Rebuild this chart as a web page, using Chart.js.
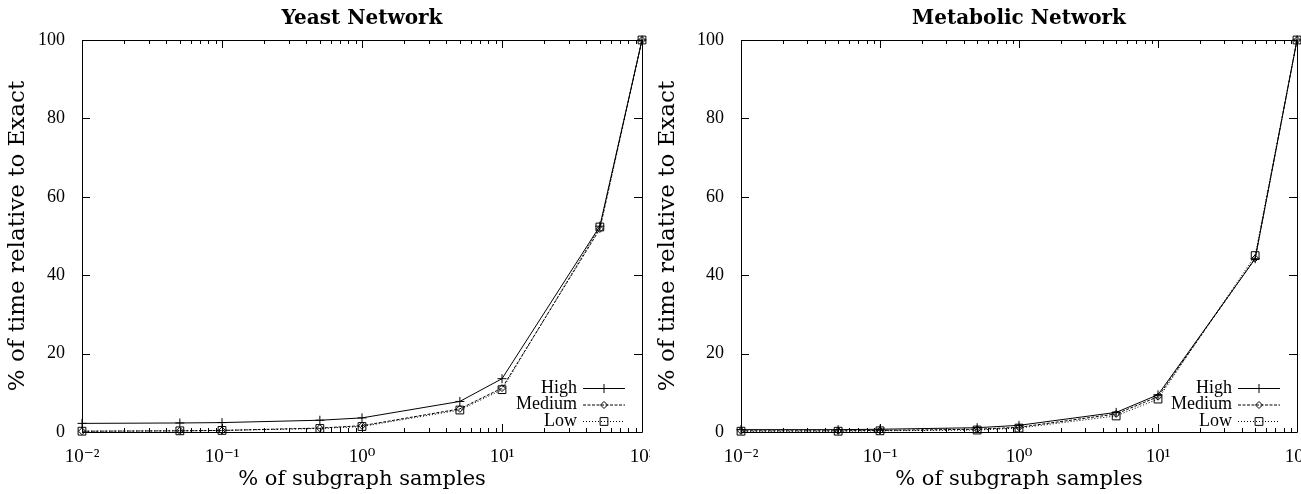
<!DOCTYPE html>
<html>
<head>
<meta charset="utf-8">
<script src="https://cdn.jsdelivr.net/npm/chart.js@4"></script>
<style>
  body { margin: 0; background: #fff; width: 1301px; height: 494px; overflow: hidden; position: relative; }
  #left { position: absolute; left: 0; top: 0; width: 650px; height: 494px; }
  #right { position: absolute; left: 650px; top: 0; width: 651px; height: 494px; overflow: hidden; }
  #right .box { width: 700px; height: 494px; }
</style>
</head>
<body>
<div id="left"><canvas id="yeast"></canvas></div>
<div id="right"><div class="box"><canvas id="metabolic"></canvas></div></div>
<script>
// sample sizes (% of subgraph samples), shared by both plots
const samplePct = [0.01, 0.05, 0.1, 0.5, 1, 5, 10, 50, 100];

// Yeast network, % of time relative to Exact
const yeastHigh   = [2.2, 2.3, 2.4, 3.0, 3.6, 7.8, 13.6, 52.5, 100];
const yeastMedium = [0.2, 0.3, 0.4, 1.0, 1.6, 5.9, 11.2, 51.8, 100];
const yeastLow    = [0.2, 0.3, 0.4, 0.9, 1.4, 5.6, 10.8, 52.3, 100];

// Metabolic network
const metaHigh   = [0.6, 0.6, 0.7, 1.1, 1.7, 5.0, 9.5, 44.2, 100];
const metaMedium = [0.3, 0.3, 0.4, 0.7, 1.2, 4.6, 9.0, 44.3, 100];
const metaLow    = [0.2, 0.2, 0.3, 0.5, 1.0, 4.1, 8.4, 45.0, 100];

const seriesNames = ["High", "Medium", "Low"];
const xTickValues = [0.01, 0.1, 1, 10, 100];
const xTickLabels = ["10⁻²", "10⁻¹", "10⁰", "10¹", "10²"];
const yTickStep = 20;

const FONT = "'Liberation Serif', 'DejaVu Serif', serif";
const LABEL_FONT = "'DejaVu Serif', serif";

// gnuplot style: box frame with inward ticks on all four sides, title, legend in the corner
const gnuplotLook = {
  id: "gnuplotLook",
  afterDraw(chart) {
    const ctx = chart.ctx;
    const a = chart.chartArea;
    const xs = chart.scales.x, ys = chart.scales.y;
    const cfg = chart.options.plugins.gnuplotLook;
    ctx.save();
    ctx.strokeStyle = "#000";
    ctx.lineWidth = 1;
    ctx.beginPath();
    ctx.rect(Math.round(a.left) + 0.5, Math.round(a.top) + 0.5, Math.round(a.right - a.left), Math.round(a.bottom - a.top));
    ctx.stroke();

    // x ticks (major on decades, minor 2..9)
    ctx.beginPath();
    for (let e = -2; e <= 2; e++) {
      for (let m = 1; m <= 9; m++) {
        const v = m * Math.pow(10, e);
        if (v > 100.0001) break;
        const px = Math.round(xs.getPixelForValue(v)) + 0.5;
        const len = m === 1 ? 8 : 4;
        ctx.moveTo(px, a.bottom); ctx.lineTo(px, a.bottom - len);
        ctx.moveTo(px, a.top); ctx.lineTo(px, a.top + len);
      }
    }
    // y ticks
    for (let v = 0; v <= 100; v += yTickStep) {
      const py = Math.round(ys.getPixelForValue(v)) + 0.5;
      ctx.moveTo(a.left, py); ctx.lineTo(a.left + 8, py);
      ctx.moveTo(a.right, py); ctx.lineTo(a.right - 8, py);
    }
    ctx.stroke();

    // title
    ctx.fillStyle = "#000";
    ctx.font = "bold 20px " + LABEL_FONT;
    ctx.textAlign = "center";
    ctx.textBaseline = "middle";
    ctx.fillText(cfg.title, (a.left + a.right) / 2, 19);

    // legend
    ctx.font = "18px " + FONT;
    ctx.textAlign = "right";
    chart.data.datasets.forEach((ds, i) => {
      const y = cfg.legendTop + i * 16.5;
      ctx.fillText(ds.label, a.right - cfg.textGap, y);
      ctx.beginPath();
      ctx.setLineDash(ds.borderDash || []);
      ctx.moveTo(a.right - cfg.lineStart, y + 0.5);
      ctx.lineTo(a.right - cfg.lineEnd, y + 0.5);
      ctx.stroke();
      ctx.setLineDash([]);
      ctx.fillStyle = "rgba(0,0,0,0)";
      Chart.helpers.drawPoint(ctx, {
        pointStyle: ds.pointStyle, radius: ds.pointRadius, rotation: 0, borderWidth: 1
      }, a.right - (cfg.lineStart + cfg.lineEnd) / 2, y + 0.5);
      ctx.fillStyle = "#000";
    });
    ctx.restore();
  }
};

function makeChart(id, title, high, medium, low, yWidth, padRight) {
  const common = { borderColor: "#000", borderWidth: 1, pointBorderColor: "#000",
    pointBackgroundColor: "rgba(0,0,0,0)", pointBorderWidth: 1, tension: 0, clip: false };
  new Chart(document.getElementById(id), {
    type: "line",
    data: {
      labels: samplePct,
      datasets: [
        Object.assign({ label: seriesNames[0], data: samplePct.map((x, i) => ({ x: x, y: high[i] })),
          pointStyle: "cross", pointRadius: 4.5 }, common),
        Object.assign({ label: seriesNames[1], data: samplePct.map((x, i) => ({ x: x, y: medium[i] })),
          pointStyle: "rectRot", pointRadius: 3.5, borderDash: [3, 1.5] }, common),
        Object.assign({ label: seriesNames[2], data: samplePct.map((x, i) => ({ x: x, y: low[i] })),
          pointStyle: "rect", pointRadius: 5.5, borderDash: [1, 2] }, common)
      ]
    },
    options: {
      responsive: true,
      maintainAspectRatio: false,
      animation: false,
      layout: { padding: { top: 40, right: padRight, left: 0, bottom: 0 } },
      plugins: {
        legend: { display: false },
        tooltip: { enabled: false },
        gnuplotLook: { title: title, legendTop: 388, textGap: 65, lineStart: 59, lineEnd: 17 }
      },
      scales: {
        x: {
          type: "logarithmic",
          min: 0.01,
          max: 100,
          grid: { display: false },
          border: { display: false },
          afterBuildTicks: s => { s.ticks = xTickValues.map(v => ({ value: v })); },
          afterFit: s => { s.height = 62; s.paddingLeft = 0; s.paddingRight = 0; },
          ticks: {
            autoSkip: false, maxRotation: 0, padding: 6, color: "#000",
            font: { family: FONT, size: 19 },
            callback: (v, i) => xTickLabels[i]
          },
          title: { display: true, text: "% of subgraph samples", color: "#000",
            font: { family: LABEL_FONT, size: 21 }, padding: { top: 0, bottom: 2 } }
        },
        y: {
          min: 0,
          max: 100,
          grid: { display: false },
          border: { display: false },
          afterFit: s => { s.width = yWidth; s.paddingTop = 0; s.paddingBottom = 0; },
          ticks: { stepSize: yTickStep, padding: 9, color: "#000", font: { family: FONT, size: 18 } },
          title: { display: true, text: "% of time relative to Exact", color: "#000",
            font: { family: LABEL_FONT, size: 23 }, padding: { top: 4, bottom: 0 } }
        }
      }
    },
    plugins: [gnuplotLook]
  });
}

makeChart("yeast", "Yeast Network", yeastHigh, yeastMedium, yeastLow, 82, 8);
makeChart("metabolic", "Metabolic Network", metaHigh, metaMedium, metaLow, 91, 53);
</script>
</body>
</html>
